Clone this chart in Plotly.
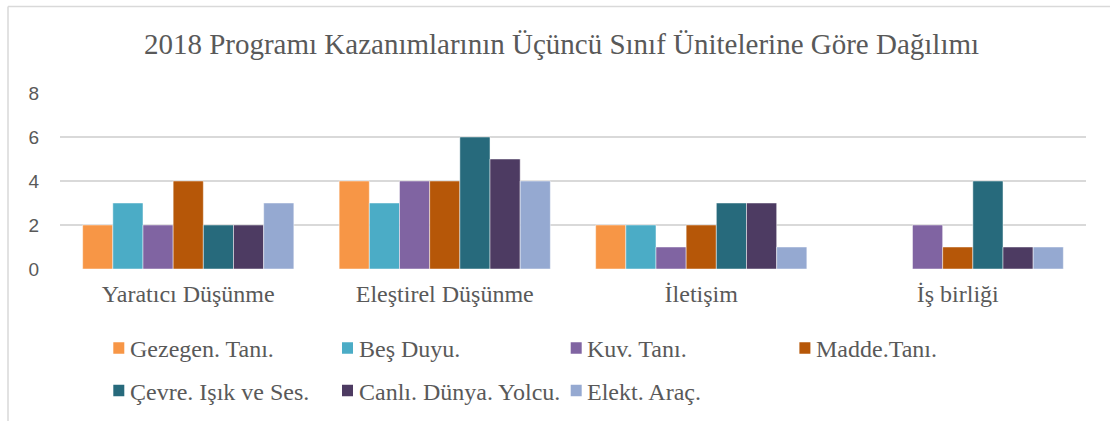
import plotly.graph_objects as go

categories = ["Yaratıcı Düşünme", "Eleştirel Düşünme", "İletişim", "İş birliği"]
series_names = ["Gezegen. Tanı.", "Beş Duyu.", "Kuv. Tanı.", "Madde.Tanı.",
                "Çevre. Işık ve Ses.", "Canlı. Dünya. Yolcu.", "Elekt. Araç."]
gezegen = [2, 4, 2, 0]
bes_duyu = [3, 3, 2, 0]
kuv = [2, 4, 1, 2]
madde = [4, 4, 2, 1]
cevre = [2, 6, 3, 4]
canli = [2, 5, 3, 1]
elekt = [3, 4, 1, 1]
series_values = [gezegen, bes_duyu, kuv, madde, cevre, canli, elekt]
colors = ["#F79646", "#4BACC6", "#8064A2", "#B65708", "#276A7C", "#4D3B62", "#95A9D1"]
y_ticks = [0, 2, 4, 6, 8]

W, H = 1110, 421
L, R, T, B = 60, 24, 93, 152
pw, ph = W - L - R, H - T - B


def px_x(x):
    return (x - L) / pw


def px_y(y):
    return (T + ph - y) / ph


serif = "Liberation Serif"
sans = "Liberation Sans"
grey = "#595959"

fig = go.Figure()
for name, vals, col in zip(series_names, series_values, colors):
    fig.add_trace(go.Bar(x=categories, y=vals, name=name, showlegend=False,
                         marker=dict(color=col, line=dict(color="rgba(255,255,255,0.6)", width=0.8))))

# custom legend (Word-style layout: 4 columns, 2 rows)
shapes = []
annotations = []
col_x = [113.3 + k * 228.7 for k in range(4)]
row_y = [348, 390.5]
for i, (name, col) in enumerate(zip(series_names, colors)):
    r, c = divmod(i, 4)
    x0 = col_x[c]
    yc = row_y[r]
    shapes.append(dict(type="rect", xref="paper", yref="paper",
                       x0=px_x(x0), x1=px_x(x0 + 11), y0=px_y(yc - 5.75), y1=px_y(yc + 5.75),
                       fillcolor=col, line=dict(width=0)))
    annotations.append(dict(text=name, xref="paper", yref="paper", x=px_x(x0 + 14.5), y=px_y(yc + 1),
                            xanchor="left", yanchor="middle", showarrow=False,
                            font=dict(family=serif, size=24, color=grey)))

# chart-area border (top and left edges visible)
shapes.append(dict(type="line", xref="paper", yref="paper",
                   x0=px_x(8), x1=px_x(W + 5), y0=px_y(6.5), y1=px_y(6.5),
                   line=dict(color="#D9D9D9", width=1.5)))
shapes.append(dict(type="line", xref="paper", yref="paper",
                   x0=px_x(8), x1=px_x(8), y0=px_y(6.5), y1=px_y(H + 5),
                   line=dict(color="#D9D9D9", width=1.5)))

fig.update_layout(
    width=W, height=H,
    margin=dict(l=L, r=R, t=T, b=B, autoexpand=False),
    paper_bgcolor="white", plot_bgcolor="white",
    barmode="group", bargap=0.1766, bargroupgap=0,
    showlegend=False,
    title=dict(text="2018 Programı Kazanımlarının Üçüncü Sınıf Ünitelerine Göre Dağılımı",
               x=561.5 / W, xanchor="center", y=1 - 43.5 / H, yanchor="middle", yref="container",
               font=dict(family=serif, size=29, color=grey)),
    xaxis=dict(tickfont=dict(family=serif, size=24, color=grey), showgrid=False,
               showline=False, ticks="", zeroline=False, ticklabelstandoff=8),
    yaxis=dict(range=[0, 8], tickvals=y_ticks, showgrid=True, gridcolor="#D9D9D9", gridwidth=1.5,
               zeroline=False, showline=False, ticks="", ticklabelstandoff=20,
               tickfont=dict(family=sans, size=19, color=grey)),
    shapes=shapes,
    annotations=annotations,
)

fig.write_html("out.html", config={"displayModeBar": False},
               post_script="document.body.style.margin='0';document.body.style.overflow='hidden';")
